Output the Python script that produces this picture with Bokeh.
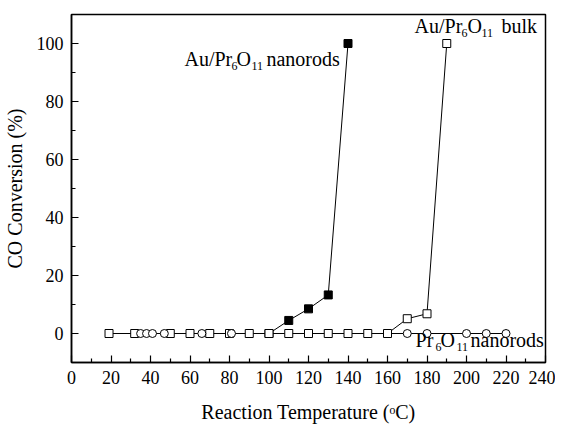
from bokeh.plotting import figure
from bokeh.models import Range1d, Label, FixedTicker
from bokeh.embed import file_html
from bokeh.resources import INLINE

# Data
bulk_x = [19, 32, 50, 60, 70, 80, 90, 100, 110, 120, 130, 140, 150, 160, 170, 180, 190]
bulk_y = [0, 0, 0, 0, 0, 0, 0, 0, 0, 0, 0, 0, 0, 0, 5.1, 6.8, 100]

rods_x = [100, 110, 120, 130, 140]
rods_y = [0, 4.5, 8.5, 13.3, 100]

pr_x = [35, 38, 41, 47, 66, 81, 170, 180, 200, 210, 220]
pr_y = [0, 0, 0, 0, 0, 0, 0, 0, 0, 0, 0]

x_ticks = [0, 20, 40, 60, 80, 100, 120, 140, 160, 180, 200, 220, 240]
x_minor = [10, 30, 50, 70, 90, 110, 130, 150, 170, 190, 210, 230]
y_ticks = [0, 20, 40, 60, 80, 100]
y_minor = [-10, 10, 30, 50, 70, 90, 110]

FONT = "Liberation Serif"

p = figure(frame_width=474, frame_height=348,
           x_range=Range1d(0, 240), y_range=Range1d(-10, 110),
           output_backend="svg", toolbar_location=None,
           min_border_left=70, min_border_top=14, min_border_right=10, min_border_bottom=55)
p.background_fill_color = "white"
p.border_fill_color = "white"
p.grid.visible = False
p.outline_line_color = "black"
p.outline_line_width = 1.5

for ax, major, minor in ((p.xaxis[0], x_ticks, x_minor), (p.yaxis[0], y_ticks, y_minor)):
    ax.ticker = FixedTicker(ticks=major, minor_ticks=minor)
    ax.axis_line_color = "black"
    ax.axis_line_width = 1.5
    ax.major_tick_in = 7
    ax.major_tick_out = 0
    ax.minor_tick_in = 4
    ax.minor_tick_out = 0
    ax.major_tick_line_width = 1.2
    ax.minor_tick_line_width = 1.2
    ax.major_label_text_font = FONT
    ax.major_label_text_font_size = "18px"
    ax.major_label_text_color = "black"
    ax.axis_label_text_font = FONT
    ax.axis_label_text_font_size = "20px"
    ax.axis_label_text_font_style = "normal"
    ax.axis_label_text_color = "black"
    ax.major_label_standoff = 8

p.xaxis.axis_label = "Reaction Temperature (ᵒC)"
p.yaxis.axis_label = "CO Conversion (%)"
p.xaxis.axis_label_standoff = 14
p.yaxis.axis_label_standoff = 8

# lines
p.line(pr_x, pr_y, line_color="black", line_width=1)
p.line(rods_x, rods_y, line_color="black", line_width=1)
p.line(bulk_x, bulk_y, line_color="black", line_width=1)
# markers
p.scatter(rods_x, rods_y, marker="square", size=8, fill_color="black", line_color="black")
p.scatter(bulk_x, bulk_y, marker="square", size=8, fill_color="white", line_color="black", line_width=1)
p.scatter(pr_x, pr_y, marker="circle", size=8, fill_color="white", line_color="black", line_width=1)

def formula_label(x, y, pieces):
    # pieces: (text, x_offset_px, is_sub)
    for txt, dx, sub in pieces:
        p.add_layout(Label(x=x, y=y, x_offset=dx, y_offset=1 if sub else 8,
                           text=txt, text_font=FONT,
                           text_font_size="12px" if sub else "20px",
                           text_color="black", text_baseline="alphabetic",
                           text_align="left"))

formula_label(57.2, 91.8, [("Au/Pr", 0, False), ("6", 47, True), ("O", 52, False),
                           ("11", 67, True), ("nanorods", 82, False)])
formula_label(173.7, 103.3, [("Au/Pr", 0, False), ("6", 47, True), ("O", 53, False),
                             ("11", 67, True), ("bulk", 87, False)])
formula_label(174.2, -4.9, [("Pr", 0, False), ("6", 20, True), ("O", 25, False),
                            ("11", 41, True), ("nanorods", 55, False)])

open("out.html", "w").write(file_html(p, INLINE))
